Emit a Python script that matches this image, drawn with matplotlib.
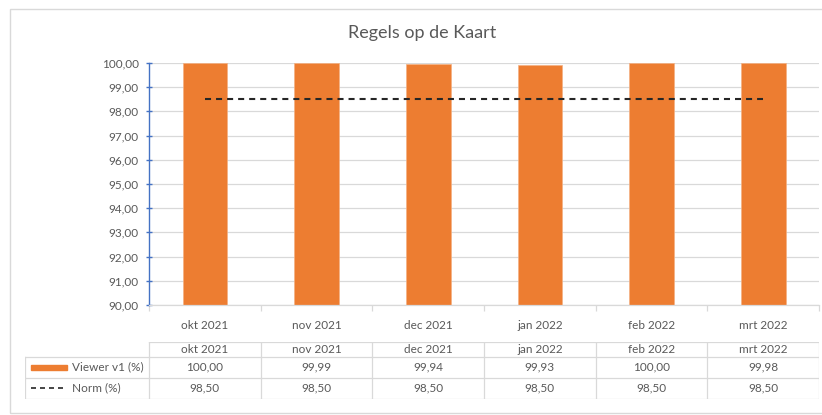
import matplotlib.pyplot as plt
from matplotlib.patches import Rectangle
from matplotlib.ticker import FuncFormatter

months = ["okt 2021", "nov 2021", "dec 2021", "jan 2022", "feb 2022", "mrt 2022"]
viewer = [100.00, 99.99, 99.94, 99.93, 100.00, 99.98]
norm = [98.50, 98.50, 98.50, 98.50, 98.50, 98.50]
series_names = ["Viewer v1 (%)", "Norm (%)"]

ORANGE = "#ED7D31"
TEXT = "#595959"
GRID = "#D9D9D9"
BLUE = "#4472C4"
DASH = "#262626"

plt.rcParams["font.family"] = ["Lato", "DejaVu Sans"]

W, H = 822, 415
fig = plt.figure(figsize=(W / 100, H / 100), dpi=100)


def px(x0, y0, x1, y1):
    return [x0 / W, 1 - y1 / H, (x1 - x0) / W, (y1 - y0) / H]


def fmt(v):
    return f"{v:.2f}".replace(".", ",")


# outer chart border
fig.add_artist(Rectangle((9.5 / W, 1 - 413 / H), 1.0, (413 - 9.5) / H,
                         transform=fig.transFigure, fill=False, ec=GRID, lw=1))

fig.text(422 / W, 1 - 33 / H, "Regels op de Kaart", ha="center", va="center",
         fontsize=13, color=TEXT)

# main plot
ax = fig.add_axes(px(149, 63, 819, 305))
x = list(range(len(months)))
ax.bar(x, viewer, width=0.4, color=ORANGE, edgecolor="#F4B183", linewidth=0.5, zorder=2)
ax.plot(x, norm, color=DASH, lw=1.5, dashes=(2.9, 2.4), zorder=3)

ax.set_xlim(-0.5, len(months) - 0.5)
ax.set_ylim(90, 100)
ax.set_yticks(range(90, 101))
ax.yaxis.set_major_formatter(FuncFormatter(lambda v, p: fmt(v)))
ax.grid(axis="y", color=GRID, lw=0.9, zorder=0)
ax.set_axisbelow(True)

ax.set_xticks(x, months)
ax.set_xticks([i - 0.5 for i in range(len(months) + 1)], minor=True)
ax.tick_params(axis="x", which="major", length=0, pad=11, labelsize=8.5, labelcolor=TEXT)
ax.tick_params(axis="x", which="minor", length=4.5, color=GRID, width=0.9)
ax.tick_params(axis="y", direction="inout", length=5, color=BLUE, width=1,
               labelsize=8.5, labelcolor=TEXT, pad=5)

for s in ["top", "right"]:
    ax.spines[s].set_visible(False)
ax.spines["left"].set_color(BLUE)
ax.spines["left"].set_linewidth(1)
ax.spines["bottom"].set_color(GRID)
ax.spines["bottom"].set_linewidth(0.9)

# data table under the chart
col_w = (819 - 149) / len(months)
left = -0.5 - (149 - 25) / col_w
tab = fig.add_axes(px(25, 342, 819, 399))
tab.set_xlim(left, len(months) - 0.5)
tab.set_ylim(57, 0)
tab.axis("off")

rows = [0, 14.5, 35.5, 57]
tab.plot([-0.5, len(months) - 0.5], [rows[0]] * 2, color=GRID, lw=0.9)
for r in rows[1:]:
    tab.plot([left, len(months) - 0.5], [r, r], color=GRID, lw=0.9)
tab.plot([left, left], [rows[1], rows[3]], color=GRID, lw=0.9)
for i in range(len(months) + 1):
    tab.plot([i - 0.5, i - 0.5], [rows[0], rows[3]], color=GRID, lw=0.9)

for i, m in enumerate(months):
    tab.text(i, (rows[0] + rows[1]) / 2, m, ha="center", va="center", fontsize=8.5, color=TEXT)
    tab.text(i, (rows[1] + rows[2]) / 2, fmt(viewer[i]), ha="center", va="center",
             fontsize=8.5, color=TEXT)
    tab.text(i, (rows[2] + rows[3]) / 2, fmt(norm[i]), ha="center", va="center",
             fontsize=8.5, color=TEXT)


def tx(p):
    return left + (p - 25) / col_w


ym1 = (rows[1] + rows[2]) / 2
ym2 = (rows[2] + rows[3]) / 2
tab.add_patch(Rectangle((tx(31), ym1 - 2.5), tx(67) - tx(31), 5, color=ORANGE))
tab.plot([tx(31), tx(67)], [ym2, ym2], color=DASH, lw=1.2, dashes=(3, 2.4))
tab.text(tx(72), ym1, series_names[0], ha="left", va="center", fontsize=8.5, color=TEXT)
tab.text(tx(72), ym2, series_names[1], ha="left", va="center", fontsize=8.5, color=TEXT)

fig.savefig("out.png", dpi=100)
